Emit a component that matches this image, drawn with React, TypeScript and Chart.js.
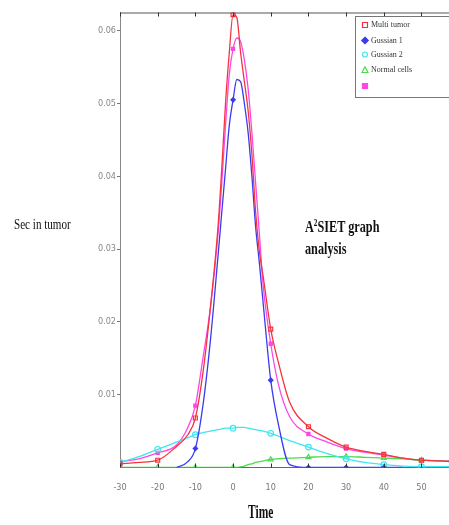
import React, { useEffect, useRef } from "react";
import { Chart, registerables } from "chart.js";

Chart.register(...registerables);

// ---- data ----
const times = [-30, -25, -20, -15, -12, -10, -8, -6, -4, -3, -2, -1, 0, 1, 2, 3, 4, 5, 6, 7, 8, 10, 12, 15, 20, 25, 30, 35, 40, 45, 50, 55, 58];

const multiTumor = [0.0005, 0.0007, 0.001, 0.0029, 0.0045, 0.0068, 0.013, 0.022, 0.033, 0.041, 0.05, 0.057, 0.0622, 0.0618, 0.057, 0.053, 0.049, 0.043, 0.035, 0.0296, 0.0262, 0.019, 0.0145, 0.009, 0.0056, 0.004, 0.0028, 0.0022, 0.0018, 0.0013, 0.001, 0.0009, 0.0008];

const gaussian1 = [null, null, null, 0, 0.0008, 0.0026, 0.0085, 0.0175, 0.029, 0.035, 0.041, 0.047, 0.0505, 0.0533, 0.053, 0.05, 0.046, 0.04, 0.033, 0.028, 0.0225, 0.012, 0.006, 0.0004, 0, 0, 0, 0, 0, 0, null, null, null];

const gaussian2 = [0.0007, 0.0015, 0.0025, 0.0035, 0.0041, 0.0045, 0.0048, 0.005, 0.0052, 0.0053, 0.0054, 0.0054, 0.0054, 0.0055, 0.0055, 0.0055, 0.0054, 0.0053, 0.0052, 0.0051, 0.005, 0.0047, 0.0043, 0.0037, 0.0028, 0.0019, 0.0012, 0.0007, 0.0004, 0.0002, 0.0001, 0.0001, 0.0001];

const normalCells = [0, 0, 0, 0, 0, 0, 0, 0, 0, 0, 0, 0, 0, 0, 0.0001, 0.0002, 0.0004, 0.0005, 0.0007, 0.0008, 0.0009, 0.0011, 0.0012, 0.0013, 0.0014, 0.0015, 0.0015, 0.0014, 0.0013, 0.0012, 0.001, 0.0009, 0.0008];

const fifthSeries = [0.0008, 0.0012, 0.002, 0.0031, 0.0055, 0.0085, 0.015, 0.022, 0.032, 0.039, 0.047, 0.054, 0.0575, 0.059, 0.0585, 0.056, 0.052, 0.046, 0.039, 0.032, 0.025, 0.017, 0.0115, 0.007, 0.0046, 0.0035, 0.0026, 0.0021, 0.0017, 0.0013, 0.001, 0.0009, 0.0009];

const seriesLabels = ["Multi tumor", "Gussian 1", "Gussian 2", "Normal cells", ""];
const xTickValues = [-30, -20, -10, 0, 10, 20, 30, 40, 50];
const yTickValues = [0.01, 0.02, 0.03, 0.04, 0.05, 0.06];

const COLORS = ["#f5333f", "#3a3af0", "#3ee6f0", "#4cdc4c", "#ff46e6"];
const STYLES = ["rect", "rectRot", "circle", "triangle", "rect"];
const FILLED = [false, true, false, false, true];

function markerRadius(r: number) {
  return (ctx: any) => {
    const t = times[ctx.dataIndex];
    return t % 10 === 0 ? r : 0;
  };
}

function drawMarker(ctx: CanvasRenderingContext2D, style: string, x: number, y: number, r: number, color: string, filled: boolean) {
  ctx.beginPath();
  if (style === "rect") {
    ctx.rect(x - r, y - r, 2 * r, 2 * r);
  } else if (style === "rectRot") {
    ctx.moveTo(x, y - r * 1.3);
    ctx.lineTo(x + r * 1.3, y);
    ctx.lineTo(x, y + r * 1.3);
    ctx.lineTo(x - r * 1.3, y);
    ctx.closePath();
  } else if (style === "circle") {
    ctx.arc(x, y, r, 0, Math.PI * 2);
  } else if (style === "triangle") {
    ctx.moveTo(x, y - r * 1.3);
    ctx.lineTo(x + r * 1.2, y + r);
    ctx.lineTo(x - r * 1.2, y + r);
    ctx.closePath();
  }
  ctx.strokeStyle = color;
  ctx.lineWidth = 1.2;
  if (filled) {
    ctx.fillStyle = color;
    ctx.fill();
  }
  ctx.stroke();
}

const framePlugin = {
  id: "frameTicks",
  afterDraw(chart: any) {
    const ctx = chart.ctx as CanvasRenderingContext2D;
    const { left, right, top, bottom } = chart.chartArea;
    const xs = chart.scales.x;
    ctx.save();
    ctx.strokeStyle = "#555";
    ctx.lineWidth = 1;
    ctx.beginPath();
    ctx.moveTo(left, top + 0.5);
    ctx.lineTo(right, top + 0.5);
    ctx.stroke();
    ctx.strokeStyle = "#333";
    xTickValues.forEach((v) => {
      const px = Math.round(xs.getPixelForValue(v)) + 0.5;
      ctx.beginPath();
      ctx.moveTo(px, top);
      ctx.lineTo(px, top + 4);
      ctx.moveTo(px, bottom);
      ctx.lineTo(px, bottom - 4);
      ctx.stroke();
    });

    // legend box
    const bx = 355, by = 16, bw = 100, bh = 81;
    ctx.fillStyle = "#fff";
    ctx.fillRect(bx, by, bw, bh);
    ctx.strokeStyle = "#777";
    ctx.strokeRect(bx + 0.5, by + 0.5, bw, bh);
    const rows = [25, 40.5, 54.5, 70, 86];
    seriesLabels.forEach((lab, i) => {
      drawMarker(ctx, STYLES[i], 365, rows[i], 2.5, COLORS[i], FILLED[i]);
      ctx.fillStyle = "#333";
      ctx.font = '8px "Liberation Serif", serif';
      ctx.textBaseline = "middle";
      ctx.textAlign = "left";
      if (lab) ctx.fillText(lab, 371, rows[i]);
    });
    ctx.restore();
  },
};

export default function App() {
  const canvasRef = useRef<HTMLCanvasElement | null>(null);

  useEffect(() => {
    const seriesData = [multiTumor, gaussian1, gaussian2, normalCells, fifthSeries];
    const datasets = seriesData.map((vals, i) => ({
      label: seriesLabels[i],
      data: times.map((t, j) => ({ x: t, y: vals[j] })),
      borderColor: COLORS[i],
      backgroundColor: FILLED[i] ? COLORS[i] : "rgba(255,255,255,0)",
      borderWidth: 1.3,
      pointStyle: STYLES[i],
      pointRadius: markerRadius(i === 1 || i === 4 ? 2.2 : 2.8),
      pointBorderWidth: 1.2,
      cubicInterpolationMode: "monotone" as const,
      spanGaps: false,
      fill: false,
    }));

    const chart = new Chart(canvasRef.current as HTMLCanvasElement, {
      type: "line",
      data: { datasets },
      options: {
        animation: false,
        responsive: true,
        maintainAspectRatio: false,
        devicePixelRatio: 1,
        layout: { autoPadding: false, padding: { top: 12.5, left: 0, right: 0, bottom: 0 } },
        plugins: { legend: { display: false }, tooltip: { enabled: false } },
        scales: {
          x: {
            type: "linear",
            min: -30,
            max: 57.3,
            afterBuildTicks: (scale: any) => {
              scale.ticks = xTickValues.map((v) => ({ value: v }));
            },
            afterFit: (scale: any) => {
              scale.height = 57.5;
              scale.paddingLeft = 0;
              scale.paddingRight = 0;
            },
            ticks: {
              color: "#777",
              padding: 7,
              font: { family: '"DejaVu Sans Condensed", "Liberation Sans Narrow", sans-serif', size: 9 },
              callback: (v: any) => String(v),
            },
            grid: { display: false },
            border: { display: true, color: "#666", width: 1 },
          },
          y: {
            min: 0,
            max: 0.0625,
            afterBuildTicks: (scale: any) => {
              scale.ticks = yTickValues.map((v) => ({ value: v }));
            },
            afterFit: (scale: any) => {
              scale.width = 120;
              scale.paddingTop = 0;
              scale.paddingBottom = 0;
            },
            ticks: {
              color: "#888",
              padding: 1,
              font: { family: '"DejaVu Sans Condensed", "Liberation Sans Narrow", sans-serif', size: 9 },
              callback: (v: any) => Number(v).toFixed(2),
            },
            grid: { drawOnChartArea: false, drawTicks: true, tickLength: 3, color: "#777" },
            border: { display: true, color: "#888", width: 1 },
          },
        },
      },
      plugins: [framePlugin],
    });
    return () => chart.destroy();
  }, []);

  return (
    <div style={{ position: "fixed", left: 0, top: 0, width: 449, height: 525, background: "#fff", overflow: "hidden" }}>
      <canvas ref={canvasRef} style={{ position: "absolute", left: 0, top: 0 }} />
      <div
        style={{
          position: "absolute", left: 14, top: 217, fontFamily: '"Liberation Serif", serif', fontSize: 15,
          lineHeight: "15px", color: "#111", whiteSpace: "nowrap", transform: "scaleX(0.74)", transformOrigin: "left top",
        }}
      >
        Sec in tumor
      </div>
      <div
        style={{
          position: "absolute", left: 305, top: 216, fontFamily: '"Liberation Serif", serif', fontSize: 17, fontWeight: "bold",
          lineHeight: "22px", color: "#111", whiteSpace: "nowrap", transform: "scaleX(0.72)", transformOrigin: "left top",
        }}
      >
        A<sup style={{ fontSize: 10, verticalAlign: "6px", lineHeight: 0 }}>2</sup>SIET graph<br />analysis
      </div>
      <div
        style={{
          position: "absolute", left: 248, top: 503, fontFamily: '"Liberation Serif", serif', fontSize: 18, fontWeight: "bold",
          lineHeight: "18px", color: "#111", whiteSpace: "nowrap", transform: "scaleX(0.64)", transformOrigin: "left top",
        }}
      >
        Time
      </div>
    </div>
  );
}
